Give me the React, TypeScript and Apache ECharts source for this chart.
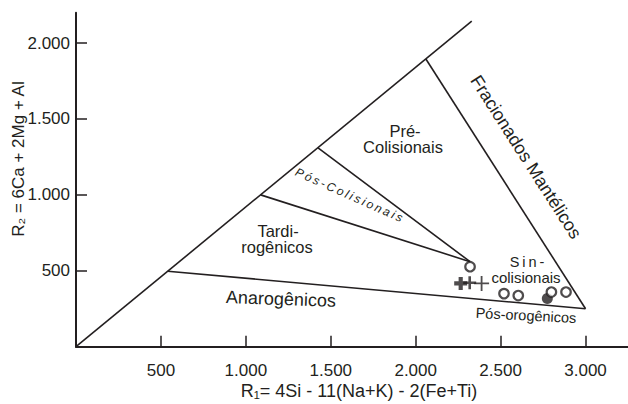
import React, { useEffect, useRef } from "react";
import * as echarts from "echarts";

// ---- Data (R1, R2 coordinates) ----
const xTickValues = [500, 1000, 1500, 2000, 2500, 3000];
const yTickValues = [500, 1000, 1500, 2000];

// Field boundaries (Batchelor & Bowden R1-R2 diagram)
const outerLine = [[0, 0], [2330, 2145]];
const mantleLine = [[2060, 1895], [3000, 250]];
const anorogenicLine = [[540, 497], [3000, 250]];
const lateOrogenicLine = [[1087, 1000], [2320, 560]];
const postCollisionLine = [[1425, 1310], [2320, 560]];

// Samples
const openCircles = [[2320, 527], [2520, 350], [2604, 337], [2799, 360], [2885, 360]];
const filledCircles = [[2775, 317]];
const boldPlus = [[2265, 417]];
const mediumPlus = [[2318, 421]];
const thinPlus = [[2388, 417]];

const xTitle = "R\u2081= 4Si - 11(Na+K) - 2(Fe+Ti)";
const yTitle = "R\u2082 = 6Ca + 2Mg + Al";

const fmt = (v: number) => {
  if (v >= 1000) {
    const t = Math.floor(v / 1000);
    const r = String(v % 1000).padStart(3, "0");
    return t + "." + r;
  }
  return String(v);
};

const spaced = (s: string) => s.split("").join("\u2009");

const FONT = "'Liberation Sans', Arial, Helvetica, sans-serif";
const INK = "#231f20";

export default function App() {
  const ref = useRef<HTMLDivElement>(null);
  useEffect(() => {
    if (!ref.current) return;
    const chart = echarts.init(ref.current, undefined, { renderer: "svg" });

    const lineSeries = (data: number[][]) => ({
      type: "line",
      data,
      symbol: "none",
      silent: true,
      lineStyle: { color: INK, width: 1.6 },
      z: 2,
    });

    const txt = (
      text: string,
      x: number,
      y: number,
      size: number,
      rotDeg = 0,
      extra: any = {}
    ) => ({
      type: "text",
      x,
      y,
      rotation: (rotDeg * Math.PI) / 180,
      z: 10,
      style: {
        text,
        fill: INK,
        fontSize: size,
        fontFamily: FONT,
        align: "center",
        verticalAlign: "middle",
        ...extra,
      },
    });

    chart.setOption({
      animation: false,
      backgroundColor: "#ffffff",
      grid: { left: 76, top: 12.7, width: 553, height: 334, containLabel: false },
      xAxis: {
        type: "value",
        min: 0,
        max: 3250,
        splitLine: { show: false },
        axisLine: { lineStyle: { color: INK, width: 2 } },
        axisTick: {
          inside: true,
          length: 11,
          lineStyle: { color: INK, width: 1.5 },
          customValues: xTickValues,
        },
        axisLabel: {
          customValues: xTickValues,
          formatter: (v: number) => fmt(v),
          color: INK,
          fontSize: 17,
          fontFamily: FONT,
          margin: 15,
        },
      },
      yAxis: {
        type: "value",
        min: 0,
        max: 2200,
        splitLine: { show: false },
        axisLine: { lineStyle: { color: INK, width: 2 } },
        axisTick: {
          inside: true,
          length: 11,
          lineStyle: { color: INK, width: 1.5 },
          customValues: yTickValues,
        },
        axisLabel: {
          customValues: yTickValues,
          formatter: (v: number) => fmt(v),
          color: INK,
          fontSize: 17,
          fontFamily: FONT,
          margin: 6,
        },
      },
      series: [
        lineSeries(outerLine),
        lineSeries(mantleLine),
        lineSeries(anorogenicLine),
        lineSeries(lateOrogenicLine),
        lineSeries(postCollisionLine),
        {
          type: "scatter",
          data: filledCircles,
          symbol: "circle",
          symbolSize: 11,
          itemStyle: { color: INK },
          z: 4,
        },
        {
          type: "scatter",
          data: openCircles,
          symbol: "circle",
          symbolSize: 9.5,
          itemStyle: { color: "#ffffff", borderColor: INK, borderWidth: 2.2 },
          z: 5,
        },
        {
          type: "scatter",
          data: boldPlus,
          symbol: "path://M3.4,0H6.6V3.4H10V6.6H6.6V10H3.4V6.6H0V3.4H3.4Z",
          symbolSize: 13,
          itemStyle: { color: INK },
          z: 5,
        },
        {
          type: "scatter",
          data: mediumPlus,
          symbol: "path://M4.0,0H6.0V4.1H10V5.9H6.0V10H4.0V5.9H0V4.1H4.0Z",
          symbolSize: 13,
          itemStyle: { color: INK },
          z: 5,
        },
        {
          type: "scatter",
          data: thinPlus,
          symbol: "path://M4.4,0H5.6V4.4H10V5.6H5.6V10H4.4V5.6H0V4.4H4.4Z",
          symbolSize: 15,
          itemStyle: { color: INK },
          z: 5,
        },
      ],
      graphic: [
        txt(yTitle, 18, 159, 17, 90),
        txt(xTitle, 359, 391, 18),
        txt("Pré-", 405, 130.5, 16.5),
        txt("Colisionais", 403, 147, 16.5),
        txt("Tardi-", 278, 230.5, 16.5),
        txt("rogênicos", 277, 247, 16.5),
        txt("Anarogênicos", 281, 299, 18, -2),
        txt(spaced("Pós-Colisionais"), 349, 195, 12, -24, { fontStyle: "italic" }),
        txt("Fracionados Mantélicos", 526, 157, 18, -57.4),
        txt(spaced("Sin-"), 527, 261.5, 14.5),
        txt("colisionais", 526, 277, 15),
        txt("Pós-orogênicos", 526, 315.5, 14.5, -3),
      ],
    });
    return () => chart.dispose();
  }, []);
  return (
    <div
      ref={ref}
      style={{ position: "fixed", left: 0, top: 0, width: 628, height: 404, background: "#fff" }}
    />
  );
}
